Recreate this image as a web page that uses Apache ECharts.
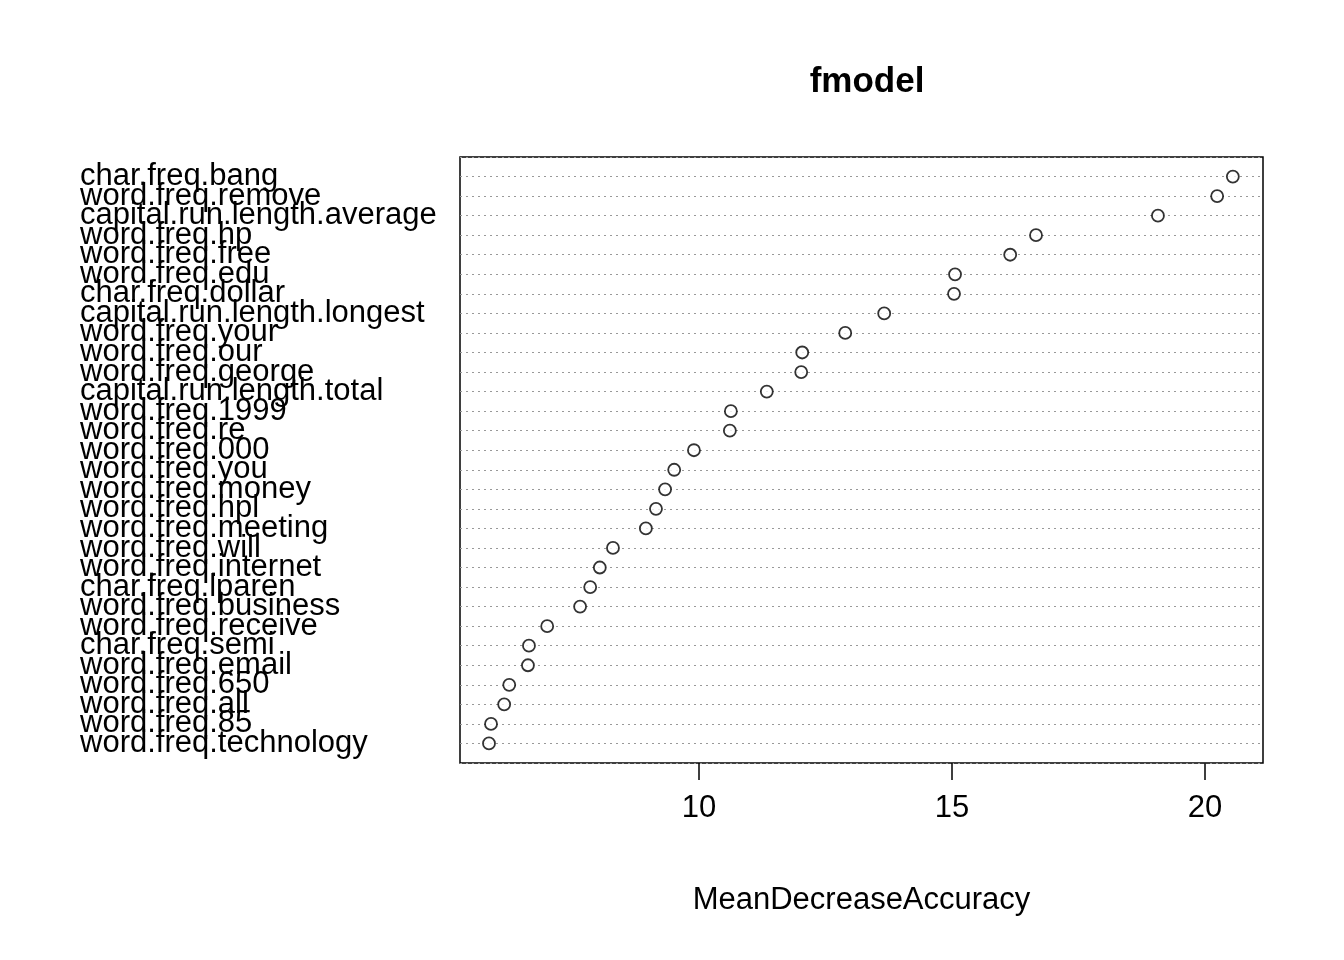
<!DOCTYPE html>
<html><head><meta charset="utf-8">
<script src="https://cdn.jsdelivr.net/npm/echarts@6/dist/echarts.min.js"></script>
<style>html,body{margin:0;background:#fff}#c{width:1344px;height:960px}</style>
</head><body><div id="c"></div>
<script>
const names = ["char.freq.bang","word.freq.remove","capital.run.length.average","word.freq.hp","word.freq.free","word.freq.edu","char.freq.dollar","capital.run.length.longest","word.freq.your","word.freq.our","word.freq.george","capital.run.length.total","word.freq.1999","word.freq.re","word.freq.000","word.freq.you","word.freq.money","word.freq.hpl","word.freq.meeting","word.freq.will","word.freq.internet","char.freq.lparen","word.freq.business","word.freq.receive","char.freq.semi","word.freq.email","word.freq.650","word.freq.all","word.freq.85","word.freq.technology"];
const values = [20.55,20.24,19.07,16.66,16.15,15.06,15.04,13.66,12.89,12.04,12.02,11.34,10.63,10.61,9.90,9.51,9.33,9.15,8.95,8.30,8.04,7.85,7.65,7.00,6.64,6.62,6.25,6.15,5.89,5.85];
const xTicks = [10,15,20];
const chart = echarts.init(document.getElementById('c'));
const font = 'Liberation Sans, Arial, sans-serif';
chart.setOption({
  animation:false,
  title:{text:'fmodel',left:862,top:60,textAlign:'center',textStyle:{fontFamily:font,fontSize:35,fontWeight:'bold',color:'#000'}},
  grid:{left:460,top:157,width:803,height:606,show:true,borderColor:'#000',borderWidth:1.5,backgroundColor:'transparent'},
  xAxis:{type:'value',min:5.277,max:21.146,
    axisLine:{show:false,onZero:false},splitLine:{show:false},
    axisTick:{show:true,inside:false,length:17,customValues:xTicks,lineStyle:{color:'#000',width:1.5}},
    axisLabel:{customValues:xTicks,margin:30,fontFamily:font,fontSize:31,color:'#000'},
    name:'MeanDecreaseAccuracy',nameLocation:'middle',nameGap:122,
    nameTextStyle:{fontFamily:font,fontSize:31,color:'#000'}},
  yAxis:{type:'value',inverse:true,min:-1,max:30,interval:1,
    axisLine:{show:false},axisTick:{show:false},
    splitLine:{show:true,lineStyle:{type:[2,4],color:'#999',width:1.2}},
    axisLabel:{align:'left',margin:380,fontFamily:font,fontSize:31,color:'#000',padding:[10,0,0,0],
      formatter:v=>(v>=0&&v<names.length)?names[v]:''}},
  series:[{type:'scatter',symbol:'circle',symbolSize:12,
    itemStyle:{color:'#fff',borderColor:'#000',borderWidth:1.8},
    data:values.map((v,i)=>[v,i])}]
});
</script></body></html>
